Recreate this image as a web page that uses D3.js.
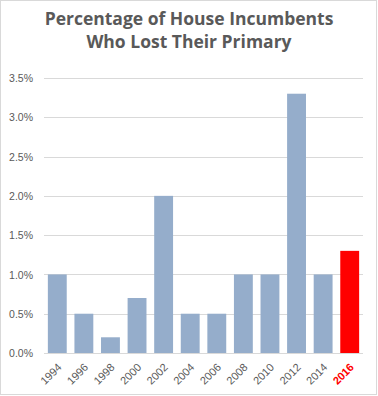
<!DOCTYPE html>
<html><head><meta charset="utf-8">
<script src="https://cdn.jsdelivr.net/npm/d3@7"></script>
<style>body{margin:0;background:#fff;}svg{display:block;font-family:"Open Sans","Liberation Sans",sans-serif;}</style>
</head><body>
<script>
const years = ["1994","1996","1998","2000","2002","2004","2006","2008","2010","2012","2014","2016"];
const values = [1.0,0.5,0.2,0.7,2.0,0.5,0.5,1.0,1.0,3.3,1.0,1.3];
const yTicks = [0,0.5,1.0,1.5,2.0,2.5,3.0,3.5];
const titleLines = ["Percentage of House Incumbents","Who Lost Their Primary"];
const highlight = "2016";

const W=378,H=396;
const svg=d3.select("body").append("svg").attr("width",W).attr("height",H);
svg.append("rect").attr("x",0.5).attr("y",0.5).attr("width",376).attr("height",394)
  .attr("fill","#fff").attr("stroke","#d9d9d9");

const x=d3.scaleBand().domain(years).range([44,363]).paddingInner(0.29).paddingOuter(0.145);
const y=d3.scaleLinear().domain([0,3.5]).range([353,78]);

const grid=svg.append("g");
grid.selectAll("line").data(yTicks).join("line")
  .attr("x1",44).attr("x2",363).attr("y1",d=>Math.round(y(d))+0.5).attr("y2",d=>Math.round(y(d))+0.5)
  .attr("stroke","#d9d9d9").attr("stroke-width",1);

const yAxis=d3.axisLeft(y).tickValues(yTicks).tickSize(0).tickPadding(0).tickFormat(d=>d.toFixed(1)+"%");
const ya=svg.append("g").attr("transform","translate(33,0)").call(yAxis);
ya.select(".domain").remove();
ya.selectAll("text").attr("fill","#595959").style("font-size","10.5px").attr("dy","0.35em");

svg.append("g").selectAll("rect").data(years).join("rect")
  .attr("x",d=>x(d)).attr("width",x.bandwidth())
  .attr("y",(d,i)=>y(values[i])).attr("height",(d,i)=>y(0)-y(values[i]))
  .attr("fill",d=>d===highlight?"#ff0000":"#95adcb");

const xAxis=d3.axisBottom(x).tickSize(0).tickPadding(0);
const xa=svg.append("g").attr("transform","translate(0,353)").call(xAxis);
xa.select(".domain").remove();
xa.selectAll("text")
  .attr("text-anchor","end").attr("dy",0).attr("y",0)
  .attr("transform","translate(5,15) rotate(-45)")
  .attr("fill",d=>d===highlight?"#ff0000":"#595959")
  .style("font-weight",d=>d===highlight?"bold":"normal")
  .style("font-size","11px");

svg.append("line").attr("x1",44).attr("x2",363).attr("y1",353.5).attr("y2",353.5).attr("stroke","#d9d9d9");

const t=svg.append("text").attr("text-anchor","middle").attr("fill","#595959")
  .style("font-weight","bold").style("font-size","17.5px");
titleLines.forEach((l,i)=>t.append("tspan").attr("x",189).attr("y",25+i*23).text(l));
</script>
</body></html>
